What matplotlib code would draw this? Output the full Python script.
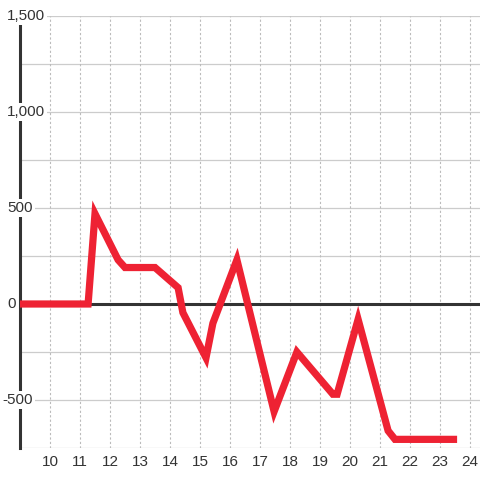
import matplotlib
matplotlib.use("Agg")
import matplotlib.pyplot as plt
from matplotlib.transforms import blended_transform_factory

# series
x_values = [9.0, 11.27, 11.5, 12.27, 12.5, 13.5, 14.27, 14.43, 15.2, 15.43,
            16.23, 17.47, 18.23, 19.43, 19.57, 20.27, 21.27, 21.5, 23.57]
y_values = [0, 0, 470, 230, 190, 190, 85, -45, -280, -100,
            230, -560, -250, -470, -470, -80, -660, -705, -705]

x_ticks = list(range(10, 25))
y_ticks = [1500, 1000, 500, 0, -500]
y_tick_labels = ["1,500", "1,000", "500", "0", "-500"]
y_grid = [1500, 1250, 1000, 750, 500, 250, -250, -500, -750]

plt.rcParams["font.family"] = ["Liberation Sans", "DejaVu Sans"]

fig = plt.figure(figsize=(4.8, 4.8), dpi=100)
ax = fig.add_axes([20 / 480, 32 / 480, 460 / 480, 432 / 480])
ax.set_xlim(9, 9 + 460 / 30)
ax.set_ylim(-750, 1500)

for spine in ("top", "right", "bottom"):
    ax.spines[spine].set_visible(False)
ax.spines["left"].set_linewidth(2.2)
ax.spines["left"].set_color("#333333")
ax.spines["left"].set_zorder(3)

for yv in y_grid:
    ax.axhline(yv, color="#cccccc", linewidth=0.9, zorder=1)
for xv in x_ticks:
    ax.axvline(xv, color="#bbbbbb", linewidth=0.8, linestyle=(0, (2, 2)), zorder=1)
ax.axhline(0, color="#333333", linewidth=2.2, zorder=2)

ax.plot(x_values, y_values, color="#ee2233", linewidth=5.2,
        solid_joinstyle="miter", solid_capstyle="butt", zorder=4)

ax.set_xticks(x_ticks)
ax.set_xticklabels([str(v) for v in x_ticks], fontsize=11, color="#333333")
ax.tick_params(axis="x", length=0, pad=5)
ax.set_yticks([])

trans = blended_transform_factory(fig.transFigure, ax.transData)
for yv, label in zip(y_ticks, y_tick_labels):
    xpos = 2 / 480 if label.startswith("-") else 7 / 480
    ax.text(xpos, yv, label, transform=trans, ha="left", va="center",
            fontsize=11, color="#333333", zorder=5, clip_on=False,
            bbox=dict(facecolor="white", edgecolor="none", pad=1.5))

fig.savefig("out.png", dpi=100, facecolor="white")
